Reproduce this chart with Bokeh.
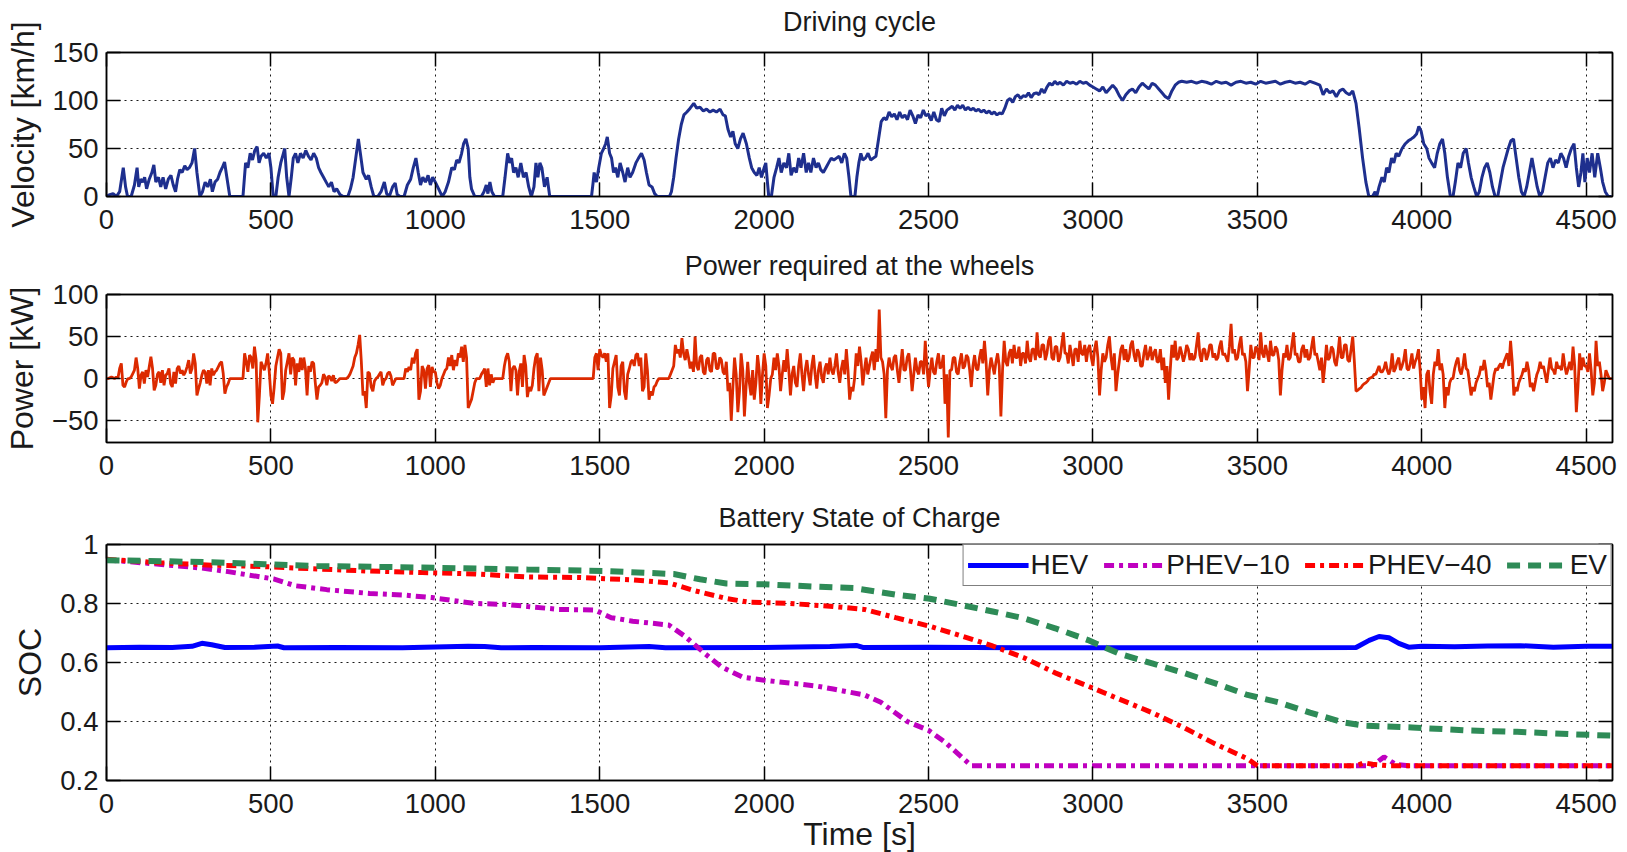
import numpy as np
from bokeh.plotting import figure
from bokeh.layouts import column
from bokeh.models import LinearAxis, FixedTicker, Range1d, Legend, LegendItem
from bokeh.embed import file_html
from bokeh.resources import INLINE

# ---------------------------------------------------------------- data
T_END = 4580
X_TICKS = [0, 500, 1000, 1500, 2000, 2500, 3000, 3500, 4000, 4500]
VEL_TICKS = [0, 50, 100, 150]
POW_TICKS = [-50, 0, 50, 100]
SOC_TICKS = [0.2, 0.4, 0.6, 0.8, 1.0]

# driving cycle: (time [s], speed [km/h])
velocity_pts = [
    (0, 0), (10, 2), (20, 3), (30, 0), (40, 5), (51, 30), (58, 10), (64, 0), (75, 0), (85, 12),
    (93, 30), (98, 10), (104, 18), (110, 15), (116, 20), (122, 8), (130, 18), (138, 25), (144, 33),
    (150, 15), (158, 20), (165, 10), (172, 20), (180, 8), (188, 18), (196, 22), (203, 12), (210, 5),
    (216, 18), (223, 28), (230, 25), (238, 32), (245, 28), (252, 30), (260, 35), (268, 50), (275, 25),
    (284, 0), (292, 5), (300, 15), (308, 10), (316, 18), (322, 5), (330, 15), (338, 18), (345, 25),
    (352, 30), (359, 36), (366, 20), (375, 0), (415, 0), (423, 35), (430, 30), (437, 45), (444, 38),
    (451, 48), (458, 52), (464, 35), (470, 42), (478, 45), (486, 40), (494, 45), (500, 30), (507, 0),
    (515, 0), (522, 20), (530, 35), (538, 45), (542, 50), (548, 20), (555, 0), (562, 20), (568, 40),
    (575, 45), (582, 35), (590, 45), (598, 40), (606, 48), (614, 42), (622, 38), (630, 45), (638, 40),
    (645, 30), (652, 25), (660, 20), (668, 15), (676, 10), (684, 15), (692, 5), (700, 8), (710, 2),
    (720, 0), (734, 0), (742, 8), (750, 20), (758, 40), (766, 60), (772, 45), (780, 25), (790, 18),
    (797, 22), (805, 10), (813, 0), (825, 0), (835, 5), (845, 15), (852, 3), (860, 0), (870, 10),
    (878, 14), (884, 2), (893, 0), (905, 0), (915, 12), (925, 18), (933, 30), (941, 40), (948, 25),
    (955, 12), (962, 20), (970, 15), (978, 22), (985, 12), (992, 20), (1000, 15), (1010, 8), (1021, 0),
    (1030, 5), (1040, 15), (1050, 30), (1058, 28), (1065, 38), (1072, 35), (1080, 45), (1086, 55),
    (1093, 60), (1100, 50), (1105, 20), (1110, 8), (1120, 0), (1140, 0), (1148, 5), (1155, 12),
    (1160, 3), (1166, 15), (1172, 5), (1180, 0), (1205, 0), (1212, 20), (1220, 45), (1226, 35),
    (1232, 40), (1238, 25), (1245, 30), (1252, 20), (1260, 35), (1268, 20), (1276, 25), (1284, 10),
    (1292, 0), (1300, 10), (1306, 35), (1312, 20), (1318, 35), (1324, 30), (1332, 10), (1340, 20),
    (1348, 0), (1475, 0), (1480, 15), (1483, 25), (1490, 15), (1497, 30), (1505, 45), (1512, 50),
    (1518, 55), (1523, 62), (1530, 45), (1536, 40), (1542, 25), (1548, 30), (1555, 20), (1562, 35),
    (1570, 25), (1577, 15), (1585, 30), (1592, 20), (1600, 25), (1610, 35), (1618, 40), (1627, 45),
    (1635, 38), (1642, 25), (1650, 12), (1659, 10), (1667, 3), (1675, 0), (1712, 0), (1718, 5),
    (1725, 20), (1732, 40), (1740, 60), (1748, 75), (1756, 85), (1765, 88), (1775, 92), (1786, 97),
    (1795, 92), (1805, 93), (1815, 89), (1825, 91), (1835, 88), (1845, 90), (1855, 88), (1866, 91),
    (1875, 85), (1882, 84), (1890, 70), (1898, 62), (1905, 68), (1912, 55), (1920, 50), (1928, 60),
    (1936, 66), (1946, 55), (1955, 40), (1962, 30), (1970, 25), (1978, 22), (1985, 30), (1992, 20),
    (2000, 30), (2005, 35), (2010, 15), (2014, 0), (2022, 0), (2030, 20), (2038, 30), (2045, 40),
    (2052, 25), (2060, 35), (2068, 30), (2075, 45), (2082, 22), (2090, 30), (2098, 25), (2105, 40),
    (2112, 30), (2120, 45), (2128, 25), (2135, 35), (2142, 25), (2150, 40), (2158, 30), (2165, 35),
    (2172, 28), (2180, 25), (2188, 30), (2196, 35), (2204, 40), (2212, 38), (2220, 40), (2228, 42),
    (2236, 35), (2244, 45), (2251, 40), (2258, 20), (2264, 0), (2276, 0), (2282, 20), (2288, 35),
    (2294, 45), (2300, 38), (2308, 40), (2316, 45), (2324, 38), (2332, 40), (2340, 42), (2348, 60),
    (2356, 78), (2364, 82), (2372, 80), (2380, 88), (2388, 83), (2396, 86), (2404, 80), (2412, 88),
    (2420, 82), (2428, 85), (2436, 80), (2444, 90), (2452, 84), (2460, 76), (2468, 85), (2476, 82),
    (2484, 90), (2492, 84), (2500, 86), (2508, 79), (2516, 88), (2524, 80), (2532, 78), (2540, 92),
    (2548, 84), (2556, 90), (2564, 92), (2572, 94), (2580, 90), (2588, 95), (2596, 92), (2604, 95),
    (2612, 90), (2620, 93), (2628, 90), (2636, 92), (2644, 89), (2652, 91), (2660, 88), (2668, 90),
    (2676, 87), (2684, 89), (2692, 86), (2700, 88), (2708, 85), (2716, 87), (2724, 86), (2732, 92),
    (2740, 100), (2748, 102), (2756, 98), (2764, 104), (2772, 106), (2780, 102), (2788, 105),
    (2796, 104), (2804, 108), (2812, 103), (2820, 107), (2828, 108), (2836, 106), (2844, 112),
    (2852, 108), (2860, 114), (2868, 118), (2876, 116), (2884, 120), (2892, 117), (2900, 119),
    (2910, 116), (2920, 120), (2930, 118), (2940, 119), (2950, 117), (2960, 120), (2970, 118),
    (2980, 119), (2990, 116), (3000, 114), (3010, 112), (3020, 110), (3030, 114), (3040, 108),
    (3050, 112), (3060, 116), (3070, 112), (3080, 105), (3090, 100), (3100, 106), (3110, 110),
    (3120, 112), (3130, 108), (3140, 114), (3150, 118), (3160, 115), (3170, 112), (3180, 118),
    (3190, 116), (3200, 112), (3210, 108), (3220, 104), (3230, 102), (3240, 110), (3250, 116),
    (3260, 119), (3270, 120), (3285, 119), (3300, 120), (3315, 118), (3330, 120), (3345, 119),
    (3360, 117), (3375, 120), (3390, 118), (3405, 119), (3420, 116), (3435, 119), (3450, 120),
    (3465, 118), (3480, 119), (3495, 117), (3510, 120), (3525, 118), (3540, 119), (3555, 120),
    (3570, 117), (3585, 119), (3600, 120), (3615, 118), (3630, 119), (3645, 117), (3660, 120),
    (3675, 118), (3690, 116), (3700, 106), (3710, 112), (3720, 108), (3730, 110), (3740, 104),
    (3750, 110), (3760, 112), (3770, 108), (3780, 106), (3790, 110), (3800, 97), (3810, 70),
    (3820, 40), (3830, 15), (3839, 0), (3850, 0), (3858, 5), (3863, 0), (3870, 10), (3879, 20),
    (3886, 15), (3893, 30), (3900, 25), (3908, 40), (3915, 35), (3922, 45), (3930, 42), (3940, 50),
    (3950, 55), (3959, 58), (3968, 60), (3976, 62), (3984, 65), (3991, 73), (3998, 68), (4006, 55),
    (4015, 50), (4022, 40), (4030, 35), (4039, 30), (4047, 45), (4055, 55), (4063, 60), (4070, 45),
    (4078, 20), (4087, 0), (4095, 0), (4102, 15), (4110, 35), (4118, 30), (4126, 45), (4135, 50),
    (4142, 35), (4150, 20), (4158, 10), (4167, 0), (4175, 5), (4183, 20), (4191, 30), (4199, 35),
    (4207, 25), (4215, 10), (4223, 0), (4231, 0), (4239, 15), (4247, 30), (4255, 40), (4263, 50),
    (4271, 58), (4279, 60), (4287, 40), (4295, 20), (4303, 5), (4311, 0), (4319, 10), (4327, 25),
    (4335, 40), (4343, 25), (4351, 10), (4359, 0), (4367, 5), (4375, 20), (4383, 35), (4391, 40),
    (4399, 30), (4407, 38), (4415, 35), (4423, 45), (4431, 40), (4439, 30), (4447, 42), (4455, 50),
    (4463, 55), (4470, 30), (4477, 10), (4484, 25), (4490, 45), (4496, 15), (4503, 40), (4510, 25),
    (4518, 45), (4526, 20), (4535, 45), (4543, 30), (4550, 15), (4558, 5), (4567, 0), (4577, 0),
]

# power required at the wheels [kW], one sample every 5 s (one row = 100 s)
POWER_STEP = 5
power_kw = [
    0, 0, 1, 2, 1, 0, 2, 1, 12, 18, -8, -10, -4, 0, 0, 2, 6, 10, 25, 12,
    -12, 4, 8, -6, 10, 2, 14, 26, 12, -14, -8, 5, 8, -5, 10, -8, 4, 6, 12, -6,
    -10, 8, -6, 12, 15, 6, 10, 4, 8, 14, 22, 6, 12, 30, 18, -20, -12, -5, 4, 10,
    8, -6, 10, -8, 12, 4, 8, 10, 14, 18, 20, 6, -18, -10, -6, 0, 0, 0, 0, 0,
    0, 0, 0, 0, 30, 20, 8, 28, 25, 12, 38, 22, -52, -20, 20, 15, 10, 18, 30, 8,
    -20, -30, -10, 15, 25, 35, 30, -25, -15, 10, 20, 30, 5, 25, 22, -8, 18, 8, 25, 10,
    25, 12, -20, 15, 8, 20, 18, -5, -25, -10, -8, -5, 5, 2, -8, 3, 2, -3, 4, -5,
    -4, -2, 0, 0, 0, 0, 0, 2, 5, 10, 15, 25, 30, 40, 52, 20, -20, -15, -35, 8,
    6, -10, -15, -3, 0, 2, 5, 8, -8, -2, 0, 6, 8, 3, -8, -4, 0, 0, 0, 0,
    0, 0, 12, 8, 14, 10, 25, 18, 30, 35, -25, -15, 15, 10, -12, 12, 16, -10, 14, 8,
    8, -5, -12, -8, 0, 5, 10, 12, 25, 15, 28, 10, 22, 15, 30, 25, 38, 20, 40, 25,
    -35, -30, -25, -15, -5, 0, 0, 0, 5, 8, 12, -10, 12, -8, 5, -5, 0, 0, 0, 0,
    0, 0, 15, 25, 30, 20, -15, 12, 15, 10, -20, 8, 18, -10, 28, 15, -22, -10, -15, -8,
    12, 25, 30, -15, 25, 10, -20, -15, -10, -5, 0, 0, 0, 0, 0, 0, 0, 0, 0, 0,
    0, 0, 0, 0, 0, 0, 0, 0, 0, 0, 0, 0, 0, 0, 0, 0, 0, 25, 30, 10,
    35, 28, 25, 30, 20, 30, -35, -20, 12, 20, 28, -10, -20, 15, 20, -15, -25, 5, 12, 20,
    22, 15, 28, 30, 15, 25, -15, -10, 30, 10, -25, -15, -20, -10, -8, -3, 0, 0, 0, 0,
    0, 0, 0, 5, 10, 15, 40, 30, 35, 25, 48, 30, 22, 35, 25, 12, 20, 8, 50, 15,
    10, 25, 28, 8, 5, 22, 25, 10, 8, 30, 30, 12, 12, 25, 22, 8, 5, 20, -15, -5,
    -50, -10, 25, 5, -40, -15, 30, 10, -45, -10, 20, -5, -20, 10, -25, -5, 28, 10, -30, 5,
    30, 15, -35, -20, 0, 5, 25, 10, 30, 15, -15, 5, 22, 8, 35, 10, -20, 5, 15, -5,
    -10, 15, 30, 5, -15, 10, 22, 5, -8, 15, 28, 5, -12, 10, 20, 2, -5, 12, 18, 5,
    25, 10, 5, 15, 30, 8, -5, 12, 22, 5, 35, 10, -25, -10, -15, 0, 30, 15, 38, 20,
    -8, 10, 25, 5, 15, 25, 32, 10, 35, 20, 82, 25, 20, 5, -47, 10, 25, 15, 10, 25,
    28, 10, -5, 15, 35, 10, 10, 25, 30, 10, -15, 5, 25, 10, 5, 20, 20, 5, 45, 15,
    -10, 10, 25, 8, 5, 20, 30, 12, 15, 28, -30, 5, -70, 10, 10, 25, 25, 8, 5, 20,
    30, 12, 15, 28, 25, 10, -10, 15, 28, 12, 10, 25, 35, 18, 45, 20, -20, 10, 25, 15,
    5, 20, 30, 15, -45, 10, 45, 20, 15, 30, 35, 18, 40, 25, 25, 38, 15, 30, 30, 18,
    45, 25, 20, 35, 35, 22, 55, 28, 25, 40, 40, 22, 30, 45, 50, 25, 22, 38, 38, 20,
    25, 40, 55, 30, 30, 18, 40, 28, 15, 35, 35, 20, 45, 30, 28, 40, 20, 35, 40, 25,
    15, 35, 45, 25, -20, 10, 30, 20, 25, 40, 50, 25, 10, 30, -15, 5, 20, 35, 40, 22,
    35, 20, 25, 40, 45, 28, 20, 35, 30, 15, 15, 30, 40, 22, 28, 38, 22, 30, 35, 20,
    20, 35, 10, 25, -5, 15, -25, 10, 40, 25, 45, 22, 25, 38, 30, 20, 28, 40, 35, 22,
    30, 22, 25, 40, 55, 28, 20, 35, 35, 22, 28, 40, 40, 25, 30, 22, 25, 38, 45, 28,
    30, 25, 20, 38, 65, 30, 35, 22, 25, 40, 50, 28, 30, 20, -15, 10, 40, 25, 25, 38,
    35, 22, 55, 30, 25, 40, 30, 20, 45, 28, 28, 38, 35, 22, -20, 10, 30, 25, 40, 22,
    25, 40, 55, 28, 30, 20, 20, 35, 40, 25, 35, 22, 25, 38, 50, 28, 30, 20, 10, 25,
    -5, 15, 40, 22, 25, 38, 35, 20, 15, 30, 50, 25, 25, 40, 40, 22, 20, 35, 50, 20,
    -15, -14, -12, -11, -8, -6, -5, -3, 0, 1, 2, 5, 5, 10, 15, 8, 8, 12, 20, 10,
    5, 12, 30, 8, 12, 20, 25, 10, 15, 22, 35, 12, 10, 18, 30, 12, 20, 25, 35, 10,
    -25, -10, -35, 5, 10, -15, -30, 5, 20, 15, 35, 10, 18, 5, -35, -10, -20, -5, 0, 0,
    12, 20, 25, 10, 5, 15, 30, 12, 10, -5, -20, -10, -15, -5, 0, 5, 15, 10, 22, 10,
    -10, -5, -25, -10, 5, 12, 10, 15, 18, 12, 20, 25, 30, 15, 45, 20, -20, -10, -15, -5,
    0, 5, 12, 8, 20, 10, -10, -5, -15, -5, 5, 10, 20, 12, 15, 5, -5, 10, 25, 12,
    10, 5, 20, 12, 15, 10, 30, 15, 5, 12, 20, 10, 38, 15, -40, -10, 30, 10, 25, 15,
    15, 8, 30, 10, -20, -5, 45, 15, 20, 5, -15, -5, 10, 5, 0, 0, 0,
]

# battery state of charge: (time [s], SOC)
soc_hev = [
    (0, 0.650), (100, 0.652), (200, 0.651), (260, 0.655), (290, 0.665), (320, 0.660), (360, 0.651),
    (450, 0.652), (520, 0.656), (540, 0.650), (700, 0.651), (900, 0.650), (1100, 0.655), (1150, 0.654),
    (1200, 0.650), (1300, 0.651), (1500, 0.650), (1650, 0.654), (1700, 0.650), (2000, 0.651),
    (2200, 0.654), (2280, 0.658), (2300, 0.651), (2500, 0.652), (2800, 0.650), (3000, 0.650),
    (3500, 0.650), (3800, 0.651), (3840, 0.675), (3870, 0.688), (3900, 0.684), (3930, 0.665),
    (3960, 0.652), (4000, 0.655), (4100, 0.653), (4200, 0.656), (4300, 0.657), (4400, 0.652),
    (4500, 0.655), (4580, 0.655),
]
soc_phev10 = [
    (0, 0.948), (160, 0.933), (290, 0.920), (370, 0.908), (430, 0.897), (510, 0.883), (575, 0.860),
    (670, 0.847), (800, 0.834), (910, 0.828), (990, 0.820), (1055, 0.810), (1120, 0.800),
    (1215, 0.797), (1280, 0.790), (1375, 0.780), (1485, 0.778), (1535, 0.752), (1600, 0.740),
    (1710, 0.727), (1760, 0.688), (1820, 0.630), (1870, 0.585), (1935, 0.550), (2000, 0.540),
    (2080, 0.530), (2160, 0.520), (2210, 0.510), (2305, 0.490), (2355, 0.465), (2435, 0.400),
    (2500, 0.370), (2550, 0.330), (2600, 0.280), (2630, 0.250), (3850, 0.250), (3885, 0.280),
    (3920, 0.255), (3960, 0.250), (4580, 0.250),
]
soc_phev40 = [
    (0, 0.950), (160, 0.938), (320, 0.930), (480, 0.925), (640, 0.917), (800, 0.910), (960, 0.905),
    (1120, 0.900), (1280, 0.890), (1440, 0.888), (1600, 0.880), (1710, 0.870), (1790, 0.843),
    (1885, 0.817), (1950, 0.805), (2080, 0.800), (2210, 0.790), (2305, 0.780), (2400, 0.752),
    (2500, 0.724), (2600, 0.690), (2695, 0.656), (2790, 0.616), (2885, 0.565), (2985, 0.520),
    (3080, 0.476), (3180, 0.430), (3275, 0.380), (3370, 0.325), (3470, 0.274), (3500, 0.250),
    (3800, 0.250), (3825, 0.260), (3850, 0.255), (3900, 0.250), (4580, 0.250),
]
soc_ev = [
    (0, 0.947), (320, 0.940), (480, 0.933), (640, 0.927), (960, 0.922), (1280, 0.915), (1520, 0.910),
    (1725, 0.900), (1805, 0.882), (1885, 0.868), (2000, 0.865), (2160, 0.857), (2275, 0.852),
    (2400, 0.830), (2500, 0.817), (2600, 0.795), (2695, 0.773), (2790, 0.750), (2885, 0.716),
    (2985, 0.676), (3080, 0.630), (3180, 0.597), (3275, 0.565), (3370, 0.530), (3470, 0.490),
    (3565, 0.465), (3660, 0.430), (3760, 0.397), (3825, 0.386), (3970, 0.380), (4130, 0.370),
    (4290, 0.365), (4450, 0.357), (4580, 0.352),
]

# ---------------------------------------------------------------- styling
FONT = "Liberation Sans"
TEXT = "#1a1a1a"
FRAME_W = 1506


def split(pts):
    a = np.array(pts, dtype=float)
    return a[:, 0], a[:, 1]


def panel(title, ylabel, y_lo, y_hi, y_ticks, frame_h, top, bottom, title_lift, xlabel=None):
    p = figure(frame_width=FRAME_W, frame_height=frame_h,
               min_border_left=105, min_border_right=16,
               min_border_top=top, min_border_bottom=bottom,
               x_range=Range1d(0, T_END), y_range=Range1d(y_lo, y_hi),
               output_backend="svg", toolbar_location=None, tools="",
               title=title)
    p.title.align = "center"
    p.title.text_font = FONT
    p.title.text_font_size = "27px"
    p.title.text_font_style = "normal"
    p.title.text_color = TEXT
    p.title.standoff = 4

    p.background_fill_color = "white"
    p.border_fill_color = "white"
    p.outline_line_color = "black"
    p.outline_line_width = 1.5

    # tick marks on the right and top edges (no labels there)
    p.add_layout(LinearAxis(ticker=FixedTicker(ticks=y_ticks)), "right")
    p.add_layout(LinearAxis(ticker=FixedTicker(ticks=X_TICKS)), "above")
    p.below[0].ticker = FixedTicker(ticks=X_TICKS)
    p.left[0].ticker = FixedTicker(ticks=y_ticks)
    p.xgrid.ticker = FixedTicker(ticks=X_TICKS)
    p.ygrid.ticker = FixedTicker(ticks=y_ticks)

    for ax in p.axis:
        ax.major_tick_in = 14
        ax.major_tick_out = 0
        ax.minor_tick_line_color = None
        ax.axis_line_color = "black"
        ax.axis_line_width = 1.5
        ax.major_tick_line_color = "black"
        ax.major_tick_line_width = 1.5
        ax.major_label_text_font = FONT
        ax.major_label_text_font_size = "27.5px"
        ax.major_label_text_color = TEXT
        ax.axis_label_text_font = FONT
        ax.axis_label_text_font_size = "32px"
        ax.axis_label_text_font_style = "normal"
        ax.axis_label_text_color = TEXT

    for ax in (p.right[0], p.above[0]):
        ax.major_label_text_font_size = "0px"
        ax.major_label_text_color = None
        ax.major_label_standoff = 0

    # blank band between the top tick marks and the heading
    p.add_layout(LinearAxis(ticker=FixedTicker(ticks=[0]), major_tick_in=0, major_tick_out=title_lift,
                            axis_line_color=None, major_tick_line_color="white",
                            major_tick_line_width=1, minor_tick_line_color=None,
                            major_label_text_font_size="0px", major_label_text_color=None,
                            major_label_standoff=0), "above")

    p.below[0].major_label_standoff = 13
    p.left[0].major_label_standoff = 8
    p.left[0].axis_label = ylabel
    p.left[0].axis_label_standoff = 9
    if xlabel:
        p.below[0].axis_label = xlabel
        p.below[0].axis_label_standoff = 0

    p.grid.grid_line_color = "black"
    p.grid.grid_line_dash = "2 4"
    p.grid.grid_line_width = 1
    p.grid.grid_line_alpha = 0.9
    return p


# ---------------------------------------------------------------- driving cycle
p1 = panel("Driving cycle", "Velocity [km/h]", 0, 150, VEL_TICKS, 144, 52, 44, 14)
vt, vv = split(velocity_pts)
p1.line(vt, vv, line_color="#1e2f8e", line_width=3)

# ---------------------------------------------------------------- power at the wheels
p2 = panel("Power required at the wheels", "Power [kW]", -76, 100, POW_TICKS, 148, 54, 48, 12)
pt = np.arange(len(power_kw)) * POWER_STEP
p2.line(pt, power_kw, line_color="#dc2a00", line_width=2.8)

# ---------------------------------------------------------------- state of charge
p3 = panel("Battery State of Charge", "SOC", 0.2, 1.0, SOC_TICKS, 236, 54, 72, 10, xlabel="Time [s]")
p3.left[0].major_label_overrides = {1: "1"}

series = [
    ("HEV", soc_hev, "#0000ff", None, 5),
    ("PHEV\u221210", soc_phev10, "#bf00bf", "10 5 4 5", 5),
    ("PHEV\u221240", soc_phev40, "#ff0000", "10 5 4 5", 5),
    ("EV", soc_ev, "#2e8b57", "13 8", 6),
]
items = []
for label, pts, color, dash, width in series:
    t, s = split(pts)
    kw = dict(line_color=color, line_width=width)
    if dash:
        kw["line_dash"] = dash
    r = p3.line(t, s, **kw)
    items.append(LegendItem(label=label, renderers=[r]))

legend = Legend(items=items, location="top_right", orientation="horizontal",
                margin=0, padding=4, spacing=15, glyph_width=61, glyph_height=20,
                label_standoff=2, border_line_color="black", border_line_width=1.5,
                background_fill_color="white", background_fill_alpha=1.0,
                label_text_font=FONT, label_text_font_size="28px", label_text_color=TEXT)
p3.add_layout(legend)

layout = column(p1, p2, p3, spacing=0)
open("out.html", "w").write(file_html(layout, INLINE))
